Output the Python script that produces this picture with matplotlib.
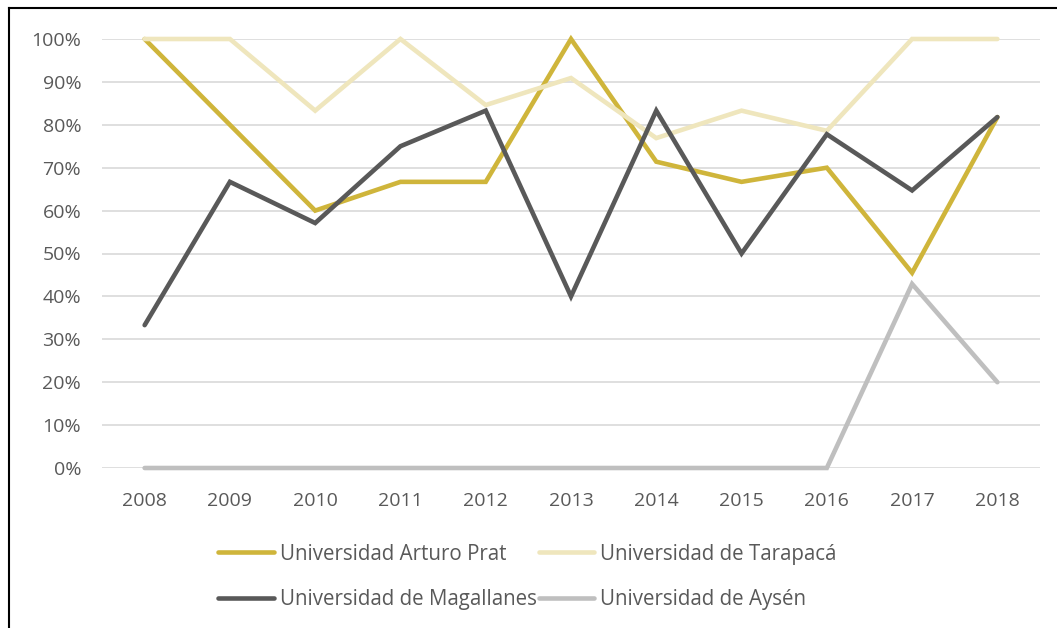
import matplotlib
matplotlib.use("Agg")
import matplotlib.pyplot as plt
from matplotlib.lines import Line2D

plt.rcParams['font.family'] = ['Open Sans', 'DejaVu Sans']

years = [2008, 2009, 2010, 2011, 2012, 2013, 2014, 2015, 2016, 2017, 2018]
arturo_prat = [100, 80, 60, 66.7, 66.7, 100, 71.4, 66.7, 70, 45.5, 81.8]
tarapaca = [100, 100, 83.3, 100, 84.6, 90.9, 76.9, 83.3, 78.6, 100, 100]
magallanes = [33.3, 66.7, 57.1, 75, 83.3, 40, 83.3, 50, 77.8, 64.7, 81.8]
aysen = [0, 0, 0, 0, 0, 0, 0, 0, 0, 42.9, 20]

names = ['Universidad Arturo Prat', 'Universidad de Tarapacá',
         'Universidad de Magallanes', 'Universidad de Aysén']
colors = ['#CFB53B', '#EFE6BD', '#595959', '#BFBFBF']
series = [arturo_prat, tarapaca, magallanes, aysen]

fig = plt.figure(figsize=(10.57, 6.28), dpi=100)
ax = fig.add_axes([102/1057, 1-468/628, (1040-102)/1057, (468-39)/628])

x = list(range(len(years)))
lines = []
for vals, c, n in zip(series, colors, names):
    ln, = ax.plot(x, vals, color=c, lw=3.3, label=n, clip_on=False,
                  solid_joinstyle='miter', solid_capstyle='round', zorder=3)
    lines.append(ln)

ax.set_xlim(-0.5, len(years)-0.5)
ax.set_ylim(0, 100)
ax.set_yticks(range(0, 101, 10))
ax.set_yticklabels([f'{v}%' for v in range(0, 101, 10)])
ax.set_xticks(x)
ax.set_xticklabels([str(y) for y in years])
ax.grid(axis='y', color='#D9D9D9', lw=1.2)
ax.set_axisbelow(True)
for s in ax.spines.values():
    s.set_visible(False)
ax.tick_params(length=0, labelsize=14, colors='#595959')
ax.tick_params(axis='x', pad=17)
ax.tick_params(axis='y', pad=15)

# legend: 2 x 2, filled row by row
order = [0, 2, 1, 3]
fig.legend([lines[i] for i in order], [names[i] for i in order], ncol=2,
           loc='center', bbox_to_anchor=(0.499, 1-577/628), frameon=False,
           fontsize=14.8, labelcolor='#595959', handlelength=2.7,
           handletextpad=0.3, columnspacing=0.1, labelspacing=1.2)

# chart border (left and top)
fig.add_artist(Line2D([9/1057, 9/1057], [0, 1-8/628], color='black', lw=1.5))
fig.add_artist(Line2D([9/1057, 1], [1-8/628, 1-8/628], color='black', lw=1.5))

fig.savefig('out.png', dpi=100)
